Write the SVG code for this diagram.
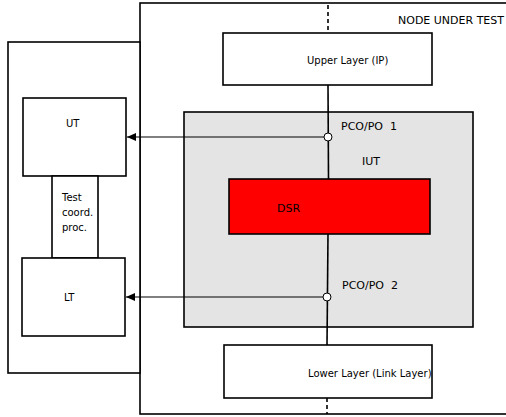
<svg xmlns="http://www.w3.org/2000/svg" width="506" height="417" viewBox="0 0 506 417">
<style>
.box{fill:#fff;stroke:#000;stroke-width:1.6}
.t{font-family:"DejaVu Sans",sans-serif;font-size:10px;fill:#000}
.t11{font-family:"DejaVu Sans",sans-serif;font-size:11px;fill:#000}
.ln{stroke:#000;stroke-width:1.6;fill:none}
.ar{stroke:#000;stroke-width:1;fill:none;marker-end:url(#ah)}
</style>
<defs>
<marker id="ah" markerWidth="10" markerHeight="10" refX="9" refY="4" orient="auto" markerUnits="userSpaceOnUse">
<path d="M0,0 L9,4 L0,8 Z" fill="#000"/>
</marker>
</defs>
<rect width="506" height="417" fill="#fff"/>
<g id="node-under-test">
<rect class="box" x="140" y="3" width="380" height="411"/>
<text class="t11" x="398" y="24">NODE UNDER TEST</text>
</g>
<g id="tester">
<rect class="box" x="8" y="42" width="132" height="331"/>
</g>
<g id="ut">
<rect class="box" x="23" y="98" width="103" height="78"/>
<text class="t" x="66" y="127">UT</text>
</g>
<g id="tcp">
<rect class="box" x="52" y="176" width="46" height="82"/>
<text class="t" x="62" y="201">Test</text>
<text class="t" x="62" y="216">coord.</text>
<text class="t" x="62" y="231">proc.</text>
</g>
<g id="lt">
<rect class="box" x="22" y="258" width="103" height="78"/>
<text class="t" x="64" y="301">LT</text>
</g>
<g id="upper">
<rect class="box" x="223" y="33" width="209" height="52"/>
<text class="t" x="307" y="64">Upper Layer (IP)</text>
</g>
<g id="iut">
<rect x="184" y="112" width="289" height="215" fill="#e4e4e4" stroke="#000" stroke-width="1.6"/>
<text class="t11" x="362" y="165">IUT</text>
</g>
<g id="dsr">
<rect x="229" y="179" width="201" height="55" fill="#ff0000" stroke="#000" stroke-width="1.6"/>
<text class="t11" x="277" y="212">DSR</text>
</g>
<g id="lower">
<rect class="box" x="224" y="345" width="208" height="53"/>
<text class="t" x="308" y="377">Lower Layer (Link Layer)</text>
</g>
<g id="connectors">
<line class="ln" x1="328" y1="5" x2="328" y2="33" stroke-dasharray="4,3"/>
<line class="ln" x1="327" y1="398" x2="327" y2="414" stroke-dasharray="4,3"/>
<line class="ln" x1="328" y1="85" x2="328.5" y2="179"/>
<line class="ln" x1="328" y1="234" x2="327" y2="345"/>
<line class="ar" x1="324" y1="137" x2="127" y2="137"/>
<line class="ar" x1="323" y1="297" x2="126" y2="297"/>
</g>
<g id="pco1">
<circle cx="328" cy="137" r="4" fill="#fff" stroke="#000" stroke-width="1"/>
<text class="t11" x="341" y="130" xml:space="preserve">PCO/PO  1</text>
</g>
<g id="pco2">
<circle cx="327" cy="297" r="4" fill="#fff" stroke="#000" stroke-width="1"/>
<text class="t11" x="342" y="289" xml:space="preserve">PCO/PO  2</text>
</g>
</svg>
